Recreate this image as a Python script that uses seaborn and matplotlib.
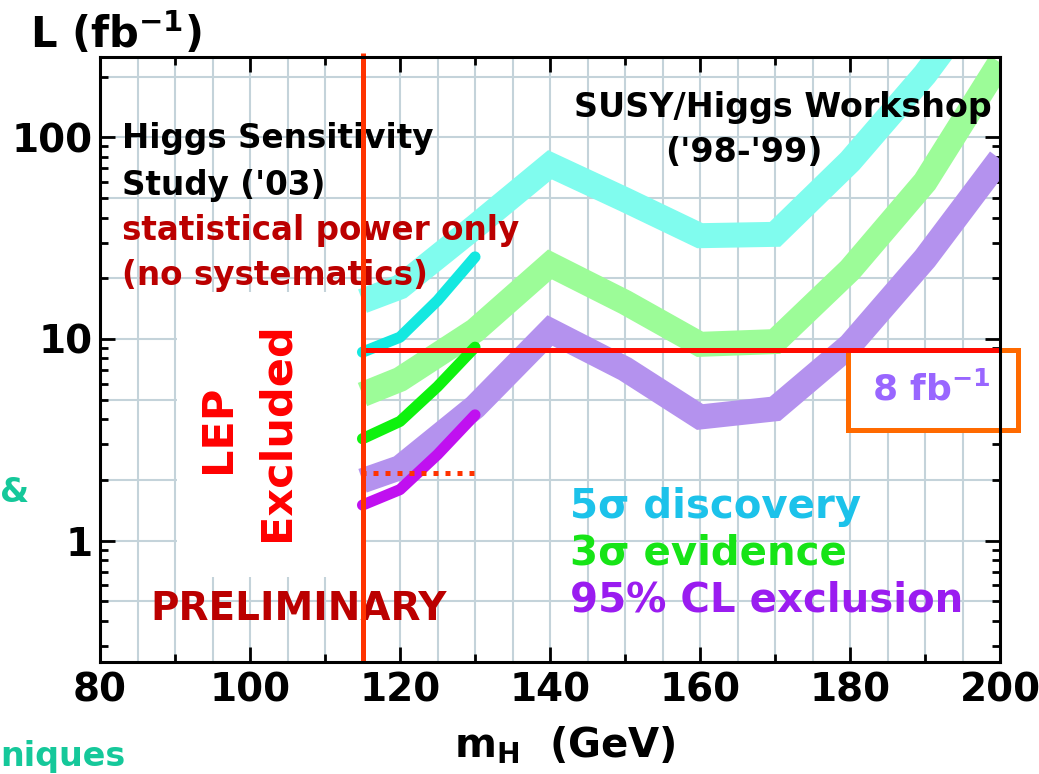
import numpy as np
import pandas as pd
import matplotlib
matplotlib.use("Agg")
import matplotlib.pyplot as plt
import seaborn as sns
from matplotlib.patches import Rectangle
from matplotlib.ticker import FixedLocator, NullFormatter, LogLocator

# ---------------- data ----------------
mass_workshop = [115, 120, 130, 140, 150, 160, 170, 180, 190, 200]
lumi_5sigma_workshop = [15.4, 18.1, 36, 73, 49, 32.5, 33, 76, 205, 650]
lumi_3sigma_workshop = [5.3, 6.3, 11, 23.4, 15.2, 9.4, 9.7, 22, 60, 235]
lumi_95cl_workshop = [1.98, 2.3, 4.6, 11.0, 7.1, 4.1, 4.5, 9.3, 25, 78]

mass_study = [115, 120, 125, 130]
lumi_5sigma_study = [8.6, 10.2, 15.5, 25.5]
lumi_3sigma_study = [3.2, 3.9, 5.8, 9.1]
lumi_95cl_study = [1.5, 1.79, 2.67, 4.2]

lep_limit = 115
target_lumi = 8.8
dotted_level = 2.17
dotted_range = [114.8, 130.2]

x_ticks = [80, 100, 120, 140, 160, 180, 200]
x_minor_ticks = [90, 110, 130, 150, 170, 190]
y_ticks = [1, 10, 100]
y_tick_labels = ["1", "10", "100"]
grid_x = list(range(85, 200, 5))
grid_y = [0.5, 1, 2, 5, 10, 20, 50, 100, 200]

# ---------------- style ----------------
sns.set_theme(style="ticks")
plt.rcParams["font.family"] = ["DejaVu Sans"]
plt.rcParams["font.weight"] = "bold"
plt.rcParams["mathtext.fontset"] = "dejavusans"
plt.rcParams["axes.linewidth"] = 2.2

fig = plt.figure(figsize=(10.39, 7.74), dpi=100)
fig.patch.set_facecolor("white")
ax = fig.add_axes([100 / 1039, 1 - 662 / 774, 900 / 1039, 605 / 774])
ax.set_facecolor("white")
ax.set_yscale("log")
ax.set_xlim(80, 200)
ax.set_ylim(0.25, 250)

# grid
for gx in grid_x:
    ax.axvline(gx, color="#c4d3da", lw=1.5, zorder=0.5)
for gy in grid_y:
    ax.axhline(gy, color="#c4d3da", lw=1.5, zorder=0.5)

# white "LEP excluded" panel
ax.add_patch(Rectangle((90.2, 0.66), lep_limit - 90.2, 17.1 - 0.66,
                       facecolor="white", edgecolor="none", zorder=1))

# workshop bands
band_kw = dict(linewidth=18, solid_capstyle="butt", solid_joinstyle="miter",
               zorder=2, legend=False, errorbar=None)
sns.lineplot(x=mass_workshop, y=lumi_5sigma_workshop, ax=ax, color="#80fcee", **band_kw)
sns.lineplot(x=mass_workshop, y=lumi_3sigma_workshop, ax=ax, color="#9cfc98", **band_kw)
sns.lineplot(x=mass_workshop, y=lumi_95cl_workshop, ax=ax, color="#b492ee", **band_kw)

# 2003 study curves
thin_kw = dict(linewidth=8, solid_capstyle="round", solid_joinstyle="round",
               zorder=3, legend=False, errorbar=None)
sns.lineplot(x=mass_study, y=lumi_5sigma_study, ax=ax, color="#14e8e0", **thin_kw)
sns.lineplot(x=mass_study, y=lumi_3sigma_study, ax=ax, color="#0ef20e", **thin_kw)
sns.lineplot(x=mass_study, y=lumi_95cl_study, ax=ax, color="#c010f0", **thin_kw)

# orange box for 8 fb-1
ax.add_patch(Rectangle((179.7, 3.54), 202.4 - 179.7, target_lumi - 3.54,
                       facecolor="white", edgecolor="#ff6a00", lw=3.6,
                       zorder=4.5, clip_on=False))
ax.text(190.9, 5.59, r"8 fb$^{\mathbf{-1}}$", fontsize=26, fontweight="bold",
        color="#9966ff", ha="center", va="center", zorder=6)

# red reference lines
ax.plot([lep_limit, 200], [target_lumi, target_lumi], color="#ff0a00", lw=3.6,
        solid_capstyle="butt", zorder=5)
ax.plot(dotted_range, [dotted_level, dotted_level], color="#ff3300", lw=3.6,
        linestyle=(0, (1.0, 1.4)), zorder=5)
ax.plot([lep_limit, lep_limit], [0.25, 262], color="#ff3300", lw=3.6,
        solid_capstyle="butt", zorder=7, clip_on=False)

# annotations
ax.text(82.9, 88.2, "Higgs Sensitivity", fontsize=23.5, color="black", va="baseline", zorder=6)
ax.text(82.9, 51.6, "Study ('03)", fontsize=23.5, color="black", va="baseline", zorder=6)
ax.text(82.9, 30.9, "statistical power only", fontsize=23.5, color="#bb0000", va="baseline", zorder=6)
ax.text(82.9, 18.5, "(no systematics)", fontsize=23.5, color="#bb0000", va="baseline", zorder=6)

ax.text(171.1, 125.6, "SUSY/Higgs Workshop", fontsize=24, color="black",
        ha="center", va="baseline", zorder=6)
ax.text(165.9, 75.2, "('98-'99)", fontsize=24, color="black",
        ha="center", va="baseline", zorder=6)

ax.text(142.7, 1.30, "5σ discovery", fontsize=29, color="#1cc2ea", va="baseline", zorder=6)
ax.text(142.7, 0.76, "3σ evidence", fontsize=29, color="#16e416", va="baseline", zorder=6)
ax.text(142.7, 0.445, "95% CL exclusion", fontsize=29, color="#9a1cf0", va="baseline", zorder=6)

ax.text(86.7, 0.402, "PRELIMINARY", fontsize=28, color="#bb0000", va="baseline", zorder=6)
ax.text(95.7, 3.58, "LEP", fontsize=31, color="#ff0000", rotation=90,
        ha="center", va="center", zorder=6)
ax.text(103.5, 3.46, "Excluded", fontsize=31, color="#ff0000", rotation=90,
        ha="center", va="center", zorder=6)

# axes ticks
ax.xaxis.set_major_locator(FixedLocator(x_ticks))
ax.xaxis.set_minor_locator(FixedLocator(x_minor_ticks))
ax.set_yticks(y_ticks)
ax.set_yticklabels(y_tick_labels)
ax.yaxis.set_minor_locator(LogLocator(base=10, subs=np.arange(2, 10)))
ax.yaxis.set_minor_formatter(NullFormatter())
ax.tick_params(which="both", direction="in", top=True, right=True,
               colors="black", width=2)
ax.tick_params(which="major", length=11, labelsize=28)
ax.tick_params(which="minor", length=6)
ax.tick_params(axis="x", which="major", pad=7)
ax.tick_params(axis="y", which="major", pad=5)
for lab in ax.get_xticklabels() + ax.get_yticklabels():
    lab.set_fontweight("bold")
for s in ax.spines.values():
    s.set_color("black")
    s.set_linewidth(2.2)
    s.set_zorder(8)

# axis titles
fig.text(30 / 1039, 1 - 48 / 774, r"L (fb$^{\mathbf{-1}}$)", fontsize=30,
         fontweight="bold", color="black", ha="left", va="baseline")
fig.text(565 / 1039, 1 - 757 / 774, r"m$_{\mathbf{H}}$  (GeV)", fontsize=29,
         fontweight="bold", color="black", ha="center", va="baseline")

# slide remnants at left edge
fig.text(0.0, 1 - 502 / 774, "&", fontsize=24, fontweight="bold",
         color="#15c89a", ha="left", va="baseline")
fig.text(0.0, 1 - 766 / 774, "niques", fontsize=24, fontweight="bold",
         color="#15c89a", ha="left", va="baseline")

fig.savefig("out.png", dpi=100)
